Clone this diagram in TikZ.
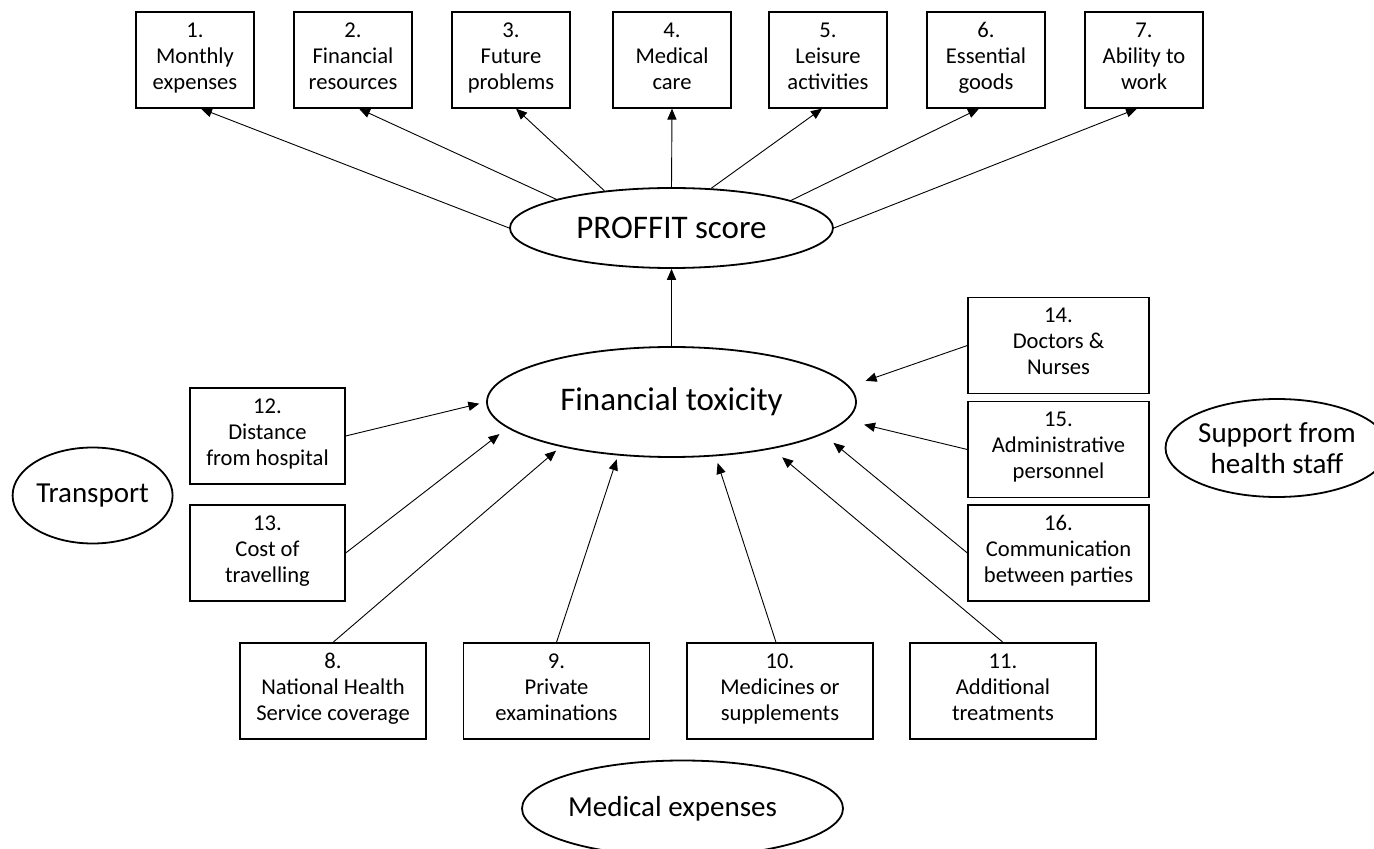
\documentclass[tikz,border=0pt]{standalone}
\usepackage{fontspec}
\setmainfont{Carlito}
\usetikzlibrary{shapes.geometric,arrows.meta}
\begin{document}
\begin{tikzpicture}[x=0.5pt,y=-0.5pt,
  itembox/.style={draw=black,line width=0.65pt,rectangle,inner sep=0pt,align=center,
    font=\fontsize{11.3}{13}\selectfont,
    execute at begin node=\strut, execute at end node=\strut},
  topbox/.style={itembox,minimum width=59pt,minimum height=48pt},
  botbox/.style={itembox,minimum width=93pt,minimum height=48pt},
  sidebox/.style={itembox,minimum width=77.5pt,minimum height=48pt},
  rightbox/.style={itembox,minimum width=90.5pt,minimum height=48pt},
  mainell/.style={draw=black,line width=0.9pt,ellipse,inner sep=0pt,
    font=\fontsize{16.5}{18}\selectfont},
  groupell/.style={draw=black,line width=0.9pt,ellipse,inner sep=0pt,align=center,
    font=\fontsize{14.5}{15.5}\selectfont},
  arr/.style={line width=0.45pt,-{Triangle[length=5.5pt,width=4.6pt]}}
]
\clip (0,0) rectangle (1374,849);
\useasboundingbox (0,0) rectangle (1374,849);
\fill[white] (0,0) rectangle (1374,849);

% top boxes
\node[topbox] (b1) at (195,60) {1.\\Monthly\\expenses};
\node[topbox] (b2) at (353,60) {2.\\Financial\\resources};
\node[topbox] (b3) at (511,60) {3.\\Future\\problems};
\node[topbox] (b4) at (672,60) {4.\\Medical\\care};
\node[topbox] (b5) at (828,60) {5.\\Leisure\\activities};
\node[topbox] (b6) at (986,60) {6.\\Essential\\goods};
\node[topbox] (b7) at (1144,60) {7.\\Ability to\\work};

% main ellipses
\node[mainell,minimum width=161.5pt,minimum height=40pt] (pf) at (671.5,228) {PROFFIT score};
\node[mainell,minimum width=184.5pt,minimum height=55pt] (ft) at (671.5,402) {Financial toxicity};

% left boxes
\node[sidebox] (b12) at (267.5,436) {12.\\Distance\\from hospital};
\node[sidebox] (b13) at (267.5,553) {13.\\Cost of\\travelling};

% right boxes
\node[rightbox] (b14) at (1058.5,345.5) {14.\\Doctors \&\\Nurses};
\node[rightbox] (b15) at (1058.5,449.5) {15.\\Administrative\\personnel};
\node[rightbox] (b16) at (1058.5,553) {16.\\Communication\\between parties};

% bottom boxes
\node[botbox] (b8) at (333,691) {8.\\National Health\\Service coverage};
\node[botbox] (b9) at (556.5,691) {9.\\Private\\examinations};
\node[botbox] (b10) at (780,691) {10.\\Medicines or\\supplements};
\node[botbox] (b11) at (1003,691) {11.\\Additional\\treatments};

% group ellipses
\node[groupell,minimum width=80pt,minimum height=48pt] (tr) at (92.6,495.5) {Transport};
\node[groupell,minimum width=107pt,minimum height=49pt] (sh) at (1277,448) {Support from\\health staff};
\node[groupell,minimum width=160.5pt,minimum height=48pt] (me) at (682.5,808.5) {\hspace*{-10pt}Medical expenses};

% PROFFIT -> items
\draw[arr] (pf.180) -- ([xshift=3pt]b1.south);
\draw[arr] (pf.166.2) -- ([xshift=3pt]b2.south);
\draw[arr] (pf.151.7) -- ([xshift=2.5pt]b3.south);
\draw[arr] (pf.90) -- (b4.south);
\draw[arr] (pf.45) -- ([xshift=-3pt]b5.south);
\draw[arr] (pf.13.4) -- ([xshift=-3.5pt]b6.south);
\draw[arr] (pf.0) -- ([xshift=-3.5pt]b7.south);

% FT -> PROFFIT
\draw[arr] (ft.90) -- (pf.270);

% items -> FT
\draw[arr,shorten >=3.5pt] (b12.east) -- (ft.180);
\draw[arr,shorten >=5pt] (b13.east) -- (ft.189.4);
\draw[arr,shorten >=3pt] (b8.north) -- (ft.202.7);
\draw[arr,shorten >=2pt] (b9.north) -- (ft.225.3);
\draw[arr,shorten >=3.5pt] ([xshift=-2pt]b10.north) -- (ft.309.5);
\draw[arr,shorten >=6.5pt] (b11.north) -- (ft.335.2);
\draw[arr,shorten >=6.75pt] (b16.west) -- (ft.348.1);
\draw[arr,shorten >=9pt] (b15.west) -- (ft.354.1);
\draw[arr,shorten >=8.5pt] (b14.west) -- (ft.5.4);
\end{tikzpicture}
\end{document}
